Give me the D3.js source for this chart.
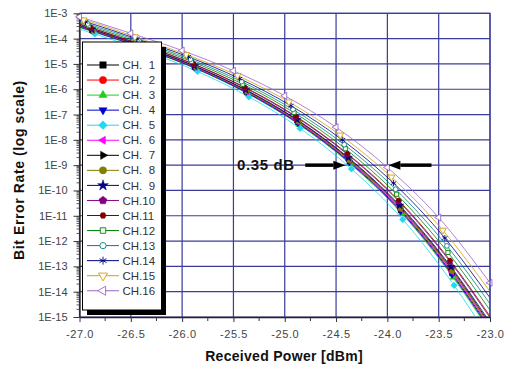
<!DOCTYPE html>
<html>
<head>
<meta charset="utf-8">
<script src="https://cdn.jsdelivr.net/npm/d3@7"></script>
<style>
  html, body { margin: 0; padding: 0; background: #fff; }
  svg { display: block; font-family: "Liberation Sans", Arial, sans-serif; }
</style>
</head>
<body>
<svg id="chart" width="507" height="368"></svg>
<script>
// measurement powers (dBm) for CH.1 - CH.15, and for CH.16
const power = [-26.85, -26.35, -25.85, -25.35, -24.85, -24.35, -23.85, -23.35];
const power16 = [-27.0, -26.5, -26.0, -25.5, -25.0, -24.5, -24.0, -23.5, -23.0];
// small per-channel offset of the measured power
const powerOffset = [-0.02, -0.03, -0.01, -0.02, 0, -0.02, -0.03, -0.02, -0.03, -0.04, -0.04, -0.06, -0.07, -0.09, -0.11];

const channels = ['CH.  1', 'CH.  2', 'CH.  3', 'CH.  4', 'CH.  5', 'CH.  6', 'CH.  7', 'CH.  8',
  'CH.  9', 'CH.10', 'CH.11', 'CH.12', 'CH.13', 'CH.14', 'CH.15', 'CH.16'];

// log10(BER) at the measured points
const berExp = [
  [-3.70, -4.38, -5.16, -6.12, -7.32, -8.86, -10.79, -13.28],
  [-3.66, -4.34, -5.11, -6.06, -7.25, -8.77, -10.67, -13.13],
  [-3.74, -4.42, -5.20, -6.18, -7.40, -8.96, -10.91, -13.44],
  [-3.71, -4.39, -5.17, -6.14, -7.35, -8.89, -10.83, -13.33],
  [-3.82, -4.50, -5.30, -6.30, -7.55, -9.15, -11.15, -13.75],
  [-3.69, -4.36, -5.14, -6.10, -7.30, -8.83, -10.75, -13.23],
  [-3.65, -4.32, -5.09, -6.04, -7.22, -8.73, -10.63, -13.07],
  [-3.67, -4.35, -5.12, -6.08, -7.27, -8.80, -10.71, -13.18],
  [-3.63, -4.31, -5.08, -6.02, -7.20, -8.70, -10.59, -13.02],
  [-3.58, -4.26, -5.01, -5.94, -7.10, -8.57, -10.43, -12.81],
  [-3.57, -4.24, -5.00, -5.92, -7.07, -8.54, -10.39, -12.76],
  [-3.49, -4.16, -4.90, -5.80, -6.92, -8.35, -10.15, -12.45],
  [-3.42, -4.09, -4.82, -5.70, -6.80, -8.19, -9.95, -12.19],
  [-3.34, -4.01, -4.72, -5.58, -6.65, -8.00, -9.71, -11.88],
  [-3.26, -3.93, -4.63, -5.46, -6.50, -7.81, -9.47, -11.57]
];
const berExp16 = [-3.14, -3.79, -4.47, -5.27, -6.26, -7.50, -9.09, -11.07, -13.65];

// fitted line ends at -27 dBm and -23 dBm (CH.1 - CH.15)
const fitStartExp = [-3.53, -3.50, -3.56, -3.54, -3.62, -3.52, -3.49, -3.50, -3.48, -3.44, -3.42, -3.37, -3.32, -3.27, -3.22];
const fitEndExp = [-15.46, -15.34, -15.58, -15.52, -15.89, -15.40, -15.28, -15.34, -15.21, -15.03, -14.97, -14.73, -14.48, -14.24, -13.99];

const xTicks = [-27.0, -26.5, -26.0, -25.5, -25.0, -24.5, -24.0, -23.5, -23.0];
const xMinor = [-26.75, -26.25, -25.75, -25.25, -24.75, -24.25, -23.75, -23.25];
const yTickExp = [-3, -4, -5, -6, -7, -8, -9, -10, -11, -12, -13, -14, -15];

// annotation
const noteLabel = '0.35 dB';
const noteBer = 1e-9;
const noteLeft = [-24.80, -24.41];
const noteRight = [-23.57, -23.99];

// styles
const colors = ['#000000', '#ff0000', '#22cc22', '#0000cc', '#22d8ee', '#ff00ff', '#000000', '#808000',
  '#000080', '#800080', '#800000', '#008000', '#008080', '#000080', '#d4a010', '#9966cc'];
const shapes = ['square', 'circle', 'triUp', 'triDown', 'diamond', 'triLeft', 'triRight', 'circle',
  'star', 'pentagon', 'hexagon', 'square', 'circle', 'asterisk', 'triDown', 'triLeft'];
const filled = [1, 1, 1, 1, 1, 1, 1, 1, 1, 1, 1, 0, 0, 0, 0, 0];
const gridColor = '#3b3b9b';
const font = '"Liberation Sans", Arial, sans-serif';

const svg = d3.select('#chart');
const x = d3.scaleLinear().domain([-27, -23]).range([79.5, 490]);
const y = d3.scaleLog().domain([1e-15, 1e-3]).range([317, 13.3]);

function poly(n, r, a0) {
  const pts = d3.range(n).map(i => [r * Math.cos(a0 + i * 2 * Math.PI / n), r * Math.sin(a0 + i * 2 * Math.PI / n)]);
  return 'M' + pts.map(p => p[0].toFixed(2) + ',' + p[1].toFixed(2)).join('L') + 'Z';
}

function markerPath(shape, open, s) {
  const k = open ? 0.85 : 1;
  switch (shape) {
    case 'square': return poly(4, 4.8 * k * s, Math.PI / 4);
    case 'circle': return d3.symbol(d3.symbolCircle, (open ? 34 : 46) * s * s)();
    case 'triUp': return poly(3, 5 * s, -Math.PI / 2);
    case 'triDown': return poly(3, 5 * (open ? 1.1 : 1) * s, Math.PI / 2);
    case 'triLeft': return poly(3, 5 * (open ? 1.1 : 1) * s, Math.PI);
    case 'triRight': return poly(3, 5 * s, 0);
    case 'diamond': return poly(4, 4.6 * s, 0);
    case 'star': return d3.symbol(d3.symbolStar, 40 * s * s)();
    case 'pentagon': return poly(5, 4.4 * s, -Math.PI / 2);
    case 'hexagon': return poly(6, 3.4 * s, 0);
    case 'asterisk': {
      const r = 4.2 * s, a = r * 0.87, b = r * 0.5;
      return `M0,${-r}L0,${r}M${-a},${-b}L${a},${b}M${-a},${b}L${a},${-b}`;
    }
  }
}

function drawMarker(g, c, px, py, s) {
  const open = !filled[c];
  g.append('path')
    .attr('d', markerPath(shapes[c], open, s))
    .attr('transform', `translate(${px},${py})`)
    .attr('fill', open ? (shapes[c] === 'asterisk' ? 'none' : '#fff') : colors[c])
    .attr('stroke', colors[c])
    .attr('stroke-width', open ? 0.9 : 0.5);
}

// grid
const grid = svg.append('g');
grid.selectAll('line.v').data(xTicks).enter().append('line')
  .attr('x1', d => x(d)).attr('x2', d => x(d))
  .attr('y1', y(1e-3)).attr('y2', y(1e-15))
  .attr('stroke', gridColor).attr('stroke-width', 1.2);
grid.selectAll('line.h').data(yTickExp).enter().append('line')
  .attr('x1', x(-27)).attr('x2', x(-23))
  .attr('y1', d => y(Math.pow(10, d))).attr('y2', d => y(Math.pow(10, d)))
  .attr('stroke', gridColor).attr('stroke-width', 1.2);

// axes
const xAxis = svg.append('g')
  .attr('transform', `translate(0,${y(1e-15)})`)
  .call(d3.axisBottom(x).tickValues(xTicks).tickFormat(d => d.toFixed(1)).tickSize(5).tickSizeOuter(0));
xAxis.selectAll('.tick line').attr('stroke', '#333');
xAxis.selectAll('text').attr('font-size', 11).attr('font-family', font).attr('fill', '#444')
  .attr('letter-spacing', 0.6).attr('dy', '1.15em');
xAxis.select('.domain').attr('stroke', '#222').attr('stroke-width', 1.3);
svg.append('g').selectAll('line').data(xMinor).enter().append('line')
  .attr('x1', d => x(d)).attr('x2', d => x(d))
  .attr('y1', y(1e-15)).attr('y2', y(1e-15) + 4)
  .attr('stroke', '#333');

const yTickVals = yTickExp.map(e => Math.pow(10, e));
const yAxis = svg.append('g')
  .attr('transform', `translate(${x(-27)},0)`)
  .call(d3.axisLeft(y).tickValues(yTickVals).tickFormat(d => '1E' + Math.round(Math.log10(d))).tickSize(6).tickSizeOuter(0));
yAxis.selectAll('.tick line').attr('stroke', '#333');
yAxis.selectAll('text').attr('font-size', 11).attr('font-family', font).attr('fill', '#444').attr('x', -12);
yAxis.select('.domain').attr('stroke', '#222').attr('stroke-width', 1.3);

const yMinor = [];
for (let e = -15; e < -3; e++) for (let m = 2; m <= 9; m++) yMinor.push(m * Math.pow(10, e));
svg.append('g').selectAll('line').data(yMinor).enter().append('line')
  .attr('x1', x(-27) - 3).attr('x2', x(-27))
  .attr('y1', d => y(d)).attr('y2', d => y(d))
  .attr('stroke', '#333').attr('stroke-width', 0.8);

// data series
const series = berExp.map((row, c) => {
  const meas = row.map((v, i) => ({ x: power[i] + powerOffset[c], y: Math.pow(10, v) }));
  return {
    c: c,
    meas: meas,
    line: [{ x: -27, y: Math.pow(10, fitStartExp[c]) }].concat(meas, [{ x: -23, y: Math.pow(10, fitEndExp[c]) }])
  };
});
const meas16 = berExp16.map((v, i) => ({ x: power16[i], y: Math.pow(10, v) }));
series.push({ c: 15, meas: meas16, line: meas16 });

svg.append('clipPath').attr('id', 'plotClip').append('rect')
  .attr('x', x(-27)).attr('y', y(1e-3)).attr('width', x(-23) - x(-27)).attr('height', y(1e-15) - y(1e-3));

const line = d3.line().x(d => x(d.x)).y(d => y(d.y)).curve(d3.curveMonotoneX);
const lines = svg.append('g').attr('clip-path', 'url(#plotClip)');
series.forEach(s => {
  lines.append('path').attr('d', line(s.line))
    .attr('fill', 'none').attr('stroke', colors[s.c]).attr('stroke-width', 0.8);
});
const marks = svg.append('g');
series.forEach(s => {
  s.meas.forEach(p => drawMarker(marks, s.c, x(p.x), y(p.y), 0.72));
});

// frame (top and right)
svg.append('path')
  .attr('d', `M${x(-27)},${y(1e-3)}H${x(-23)}V${y(1e-15)}`)
  .attr('fill', 'none').attr('stroke', gridColor).attr('stroke-width', 1.2);

// legend
const lg = svg.append('g');
lg.append('rect').attr('x', 87).attr('y', 47).attr('width', 79).attr('height', 268).attr('fill', '#000');
lg.append('rect').attr('x', 82.5).attr('y', 42).attr('width', 79).attr('height', 268)
  .attr('fill', '#fff').attr('stroke', '#000').attr('stroke-width', 1);
channels.forEach((name, c) => {
  const ly = 65 + c * 15.05;
  lg.append('line').attr('x1', 87).attr('x2', 119).attr('y1', ly).attr('y2', ly)
    .attr('stroke', colors[c]).attr('stroke-width', 1);
  drawMarker(lg, c, 103, ly, 0.95);
  lg.append('text').attr('x', 122.5).attr('y', ly).attr('dy', '0.36em')
    .attr('font-size', 11.5).attr('font-family', font).attr('fill', '#333')
    .style('white-space', 'pre').text(name);
});

// annotation
const ny = y(noteBer);
svg.append('text').attr('x', x(-25.465)).attr('y', ny + 5.3)
  .attr('font-size', 15).attr('font-weight', 'bold').attr('font-family', font)
  .attr('letter-spacing', 0.6).attr('fill', '#111').text(noteLabel);
function arrow(pts) {
  const x0 = x(pts[0]), x1 = x(pts[1]);
  const dir = Math.sign(x1 - x0);
  const hl = 12;
  svg.append('line').attr('x1', x0).attr('x2', x1 - dir * hl).attr('y1', ny).attr('y2', ny)
    .attr('stroke', '#000').attr('stroke-width', 3.5);
  svg.append('path')
    .attr('d', `M${x1},${ny}L${x1 - dir * hl},${ny - 4.5}L${x1 - dir * hl},${ny + 4.5}Z`)
    .attr('fill', '#000');
}
arrow(noteLeft);
arrow(noteRight);

// axis titles
svg.append('text').attr('x', 284).attr('y', 361).attr('text-anchor', 'middle')
  .attr('font-size', 14).attr('font-weight', 'bold').attr('font-family', font)
  .attr('letter-spacing', 0.3).attr('fill', '#111').text('Received Power [dBm]');
svg.append('text').attr('transform', 'translate(24,170) rotate(-90)').attr('text-anchor', 'middle')
  .attr('font-size', 14).attr('font-weight', 'bold').attr('font-family', font)
  .attr('letter-spacing', 0.6).attr('fill', '#111').text('Bit Error Rate (log scale)');
</script>
</body>
</html>
